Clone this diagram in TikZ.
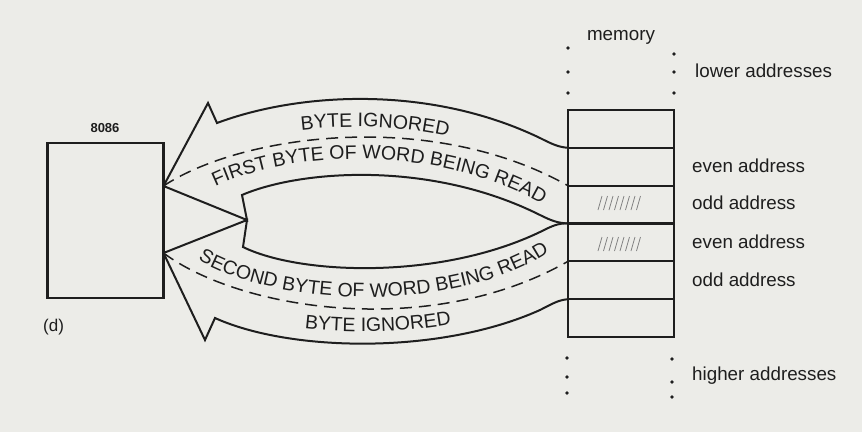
\documentclass[tikz,border=0pt]{standalone}
\usepackage{fontspec}
\setmainfont{Liberation Sans}
\usetikzlibrary{decorations.text}
\definecolor{paper}{RGB}{236,236,232}
\definecolor{ink}{RGB}{30,30,30}
\definecolor{hatch}{RGB}{130,130,130}
\newcommand{\arrowfont}{\fontsize{19.5}{20}\selectfont}
\newcommand{\labelfont}{\fontsize{18.8}{20}\selectfont}
\tikzset{
  outline/.style={draw=ink, line width=2pt, line join=miter},
  boxstyle/.style={draw=ink, line width=2.2pt, outer sep=0pt, inner sep=0pt},
  memrow/.style={boxstyle, minimum width=106pt, minimum height=37.83pt},
  middash/.style={draw=ink, line width=1.5pt, dash pattern=on 12pt off 7pt},
  sidelabel/.style={anchor=base west, inner sep=0pt, font=\labelfont, text=ink},
  dotmark/.style={fill=ink, circle, inner sep=0pt, minimum size=3.6pt},
  pathtext/.style={decoration={text along path, text align=center, text color=ink, text={|\arrowfont|#1}}, decorate}
}
\begin{document}
\begin{tikzpicture}[x=1pt, y=-1pt]
\fill[paper] (0,0) rectangle (862,432);
\useasboundingbox (0,0) rectangle (862,432);

% 8086 box
\node[boxstyle, minimum width=116pt, minimum height=155pt] (cpu) at (105.5,220.5) {};
\node[font=\fontsize{13}{14}\selectfont\bfseries, text=ink, inner sep=0pt] (cpulabel) at (105,128) {8086};
\node[font=\fontsize{17}{18}\selectfont, text=ink, inner sep=0pt, anchor=west] (dlabel) at (43,327) {(d)};

% memory rows
\node[memrow] (m1) at (621,128.9) {};
\node[memrow] (m2) at (621,166.75) {};
\node[memrow] (m3) at (621,204.6) {};
\node[memrow] (m4) at (621,242.4) {};
\node[memrow] (m5) at (621,280.25) {};
\node[memrow] (m6) at (621,318.1) {};

\node[font=\labelfont, text=ink, inner sep=0pt, anchor=base] (memlabel) at (621,40) {memory};
\node[sidelabel] (lower) at (695,77) {lower addresses};
\node[sidelabel] (ev1) at (692,172) {even address};
\node[sidelabel] (od1) at (692,209) {odd address};
\node[sidelabel] (ev2) at (692,248) {even address};
\node[sidelabel] (od2) at (692,286) {odd address};
\node[sidelabel] (higher) at (692,380) {higher addresses};

% dots
\foreach \y in {48,72,93} \node[dotmark] at (568,\y) {};
\foreach \y in {54,72,93} \node[dotmark] at (674,\y) {};
\foreach \y in {358,377,393} \node[dotmark] at (567,\y) {};
\foreach \y in {359,382,397} \node[dotmark] at (672,\y) {};

% hatching in rows 3 and 4
\foreach \i in {0,...,7} {
  \draw[hatch, line width=0.8pt] (598+\i*5.5,210) -- (602+\i*5.5,196);
  \draw[hatch, line width=0.8pt] (598+\i*5.5,251) -- (602+\i*5.5,237);
}

% key points
\coordinate (tipA) at (163.5,186);
\coordinate (tipB) at (163.5,253);
\coordinate (joint) at (247,220);

% upper arrow
\draw[outline] (m2.north west) .. controls (558,147) and (552,144) .. (540,138)
  .. controls (430,85) and (300,92) .. (217,123) -- (208,103) -- (tipA) -- (joint) -- (242,195)
  .. controls (300,170) and (430,160) .. (540,215) .. controls (552,221) and (558,223) .. (m4.north west);
% lower arrow
\draw[outline] (m4.north west) .. controls (558,223) and (552,226) .. (540,232)
  .. controls (440,280) and (300,275) .. (243,247) -- (joint) -- (tipB) -- (205,340) -- (215,318)
  .. controls (290,352) and (440,355) .. (540,310) .. controls (552,304) and (558,300) .. (m6.north west);

% dashed middle lines
\draw[middash] (tipA) .. controls (240,135) and (430,108) .. (m3.north west);
\draw[middash] (tipB) .. controls (240,310) and (430,340) .. (m5.north west);

% texts along the bands
\path[pathtext={BYTE IGNORED}] (212,151) .. controls (295,120) and (425,113) .. (535,166);
\path[pathtext={FIRST BYTE OF WORD BEING READ}] (205,192) .. controls (280,150) and (440,140) .. (552,210);
\path[pathtext={SECOND BYTE OF WORD BEING READ}] (195,258) .. controls (270,305) and (450,318) .. (552,250);
\path[pathtext={BYTE IGNORED}] (215,306) .. controls (290,340) and (440,343) .. (540,298);
\end{tikzpicture}
\end{document}
